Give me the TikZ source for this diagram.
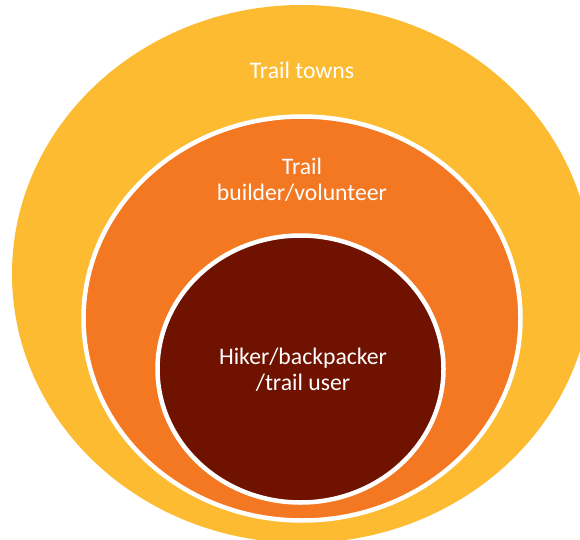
\documentclass[tikz,border=0pt]{standalone}
\usepackage{fontspec}
\setmainfont{Carlito}
\definecolor{townyellow}{RGB}{252,187,49}
\definecolor{builderorange}{RGB}{244,119,33}
\definecolor{hikerbrown}{RGB}{112,18,0}
\begin{document}
\begin{tikzpicture}[x=1pt,y=1pt,
  ring/.style={draw=white,line width=4.5pt},
  label/.style={text=white,align=center,font=\fontsize{23.7}{25.5}\selectfont,inner sep=0pt}]
\useasboundingbox (0,0) rectangle (580,539);
\clip (0,0) rectangle (580,539);
\fill[townyellow] (302,265) ellipse [x radius=290, y radius=269];
\filldraw[ring,fill=builderorange] (302,220.5) ellipse [x radius=218.5, y radius=202];
\filldraw[ring,fill=hikerbrown] (300.5,170) ellipse [x radius=143, y radius=133.5];
\node[label] (towns) at (302,469) {Trail towns};
\node[label] (builder) at (302,359) {Trail\\builder/volunteer};
\node[label] (hiker) at (303,169) {Hiker/backpacker\\/trail user};
\end{tikzpicture}
\end{document}
